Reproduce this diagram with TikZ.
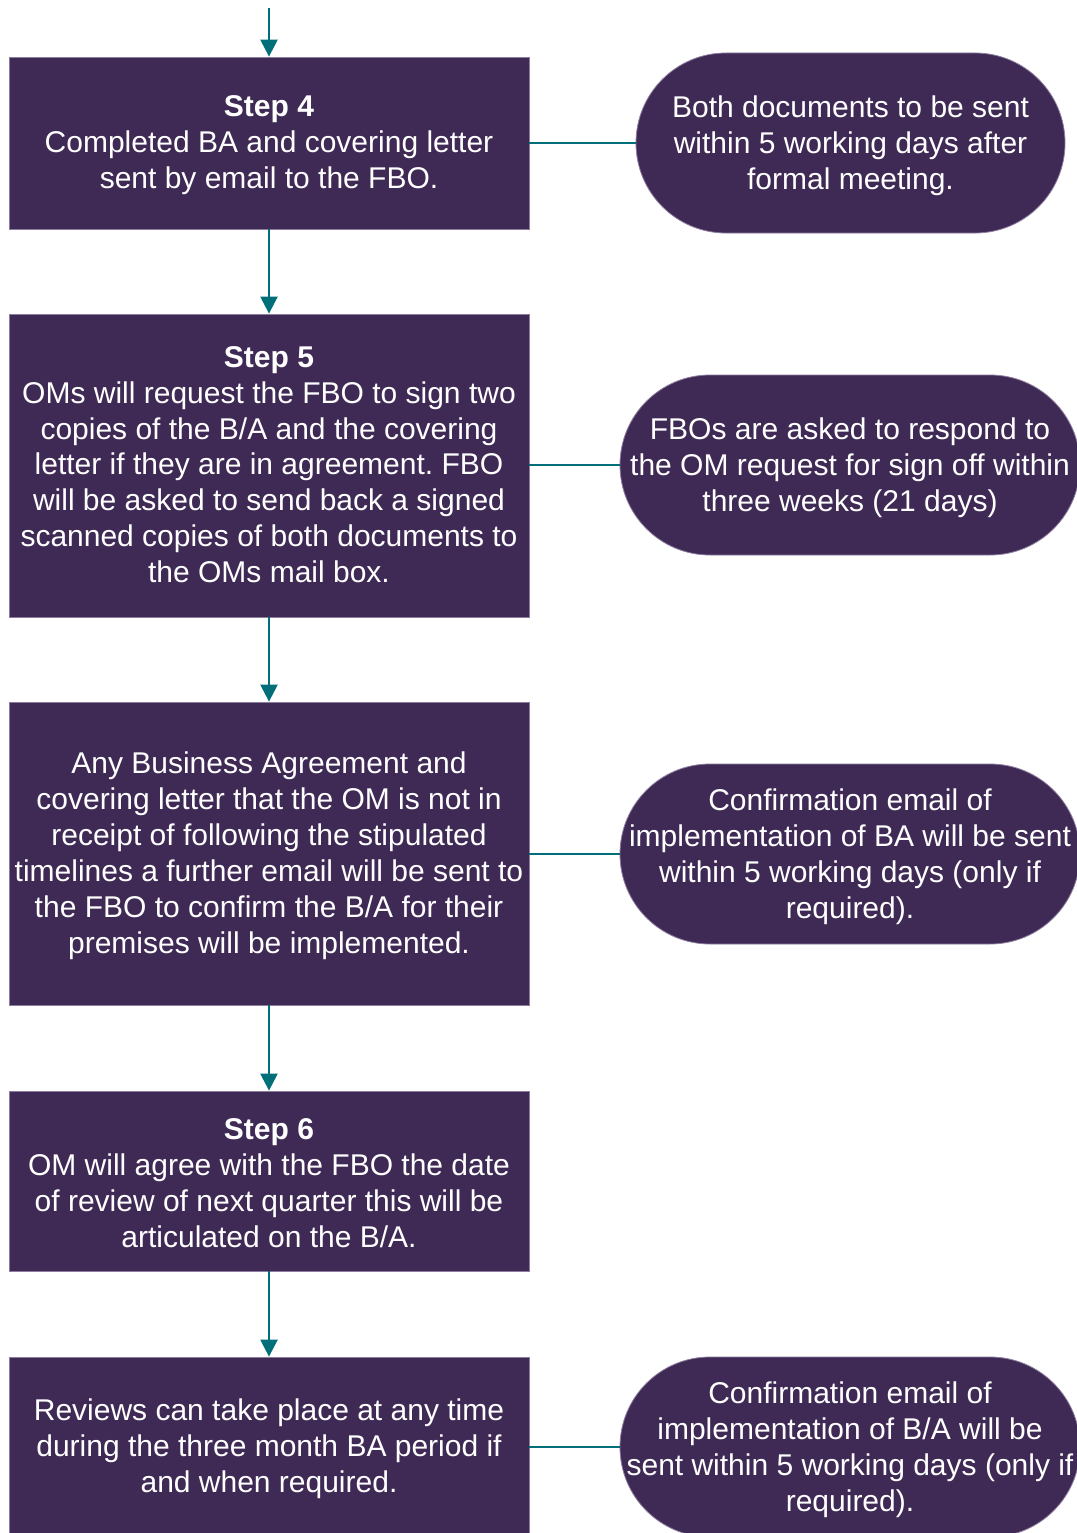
\documentclass[tikz,border=0pt]{standalone}
\usepackage{fontspec}
\setmainfont{Liberation Sans}
\usetikzlibrary{arrows.meta}
\frenchspacing
\definecolor{boxpurple}{HTML}{3F2A55}
\definecolor{boxedge}{HTML}{8C7C9E}
\definecolor{teal}{HTML}{006F79}
\tikzset{
  stepbox/.style={rectangle, fill=boxpurple, draw=boxedge, line width=0.8pt,
    inner sep=0pt, minimum width=520pt},
  pill/.style={rectangle, rounded corners=90pt, fill=boxpurple, draw=boxedge, line width=0.8pt,
    inner sep=0pt, minimum height=180pt},
  txt/.style={text=white, align=center, inner sep=0pt, yshift=-2.5pt,
    font=\fontsize{30}{36}\selectfont},
  flow/.style={draw=teal, line width=2.4pt, -{Triangle[width=17pt,length=17pt]}},
  link/.style={draw=teal, line width=2pt}
}
\begin{document}
\begin{tikzpicture}[x=1pt,y=-1pt]
\useasboundingbox (0,0) rectangle (1076,1533);
\fill[white] (0,0) rectangle (1076,1533);

\node[stepbox, minimum height=172pt] (b4) at (269,143) {};
\node[stepbox, minimum height=303pt] (b5) at (269,465.5) {};
\node[stepbox, minimum height=303pt] (ba) at (269,853.5) {};
\node[stepbox, minimum height=180pt] (b6) at (269,1181) {};
\node[stepbox, minimum height=178pt] (br) at (269,1446) {};

\node[pill, minimum width=429pt] (p1) at (850.5,143) {};
\node[pill, minimum width=460pt] (p2) at (850,465) {};
\node[pill, minimum width=460pt] (p3) at (850,854) {};
\node[pill, minimum width=460pt] (p4) at (850,1447) {};

\node[txt] (t4) at (b4.center)
  {\textbf{Step 4}\\Completed BA and covering letter\\sent by email to the FBO.};
\node[txt, yshift=3.5pt, font=\fontsize{30}{35.8}\selectfont] (t5) at (b5.center)
  {\textbf{Step 5}\\OMs will request the FBO to sign two\\copies of the B/A and the covering\\letter if they are in agreement. FBO\\will be asked to send back a signed\\scanned copies of both documents to\\the OMs mail box.};
\node[txt] (ta) at (ba.center)
  {Any Business Agreement and\\covering letter that the OM is not in\\receipt of following the stipulated\\timelines a further email will be sent to\\the FBO to confirm the B/A for their\\premises will be implemented.};
\node[txt] (t6) at (b6.center)
  {\textbf{Step 6}\\OM will agree with the FBO the date\\of review of next quarter this will be\\articulated on the B/A.};
\node[txt] (tr) at (br.center)
  {Reviews can take place at any time\\during the three month BA period if\\and when required.};

\node[txt] (q1) at (p1.center)
  {Both documents to be sent\\within 5 working days after\\formal meeting.};
\node[txt] (q2) at (p2.center)
  {FBOs are asked to respond to\\the OM request for sign off within\\three weeks (21 days)};
\node[txt] (q3) at (p3.center)
  {Confirmation email of\\implementation of BA will be sent\\within 5 working days (only if\\required).};
\node[txt] (q4) at (p4.center)
  {Confirmation email of\\implementation of B/A will be\\sent within 5 working days (only if\\required).};

\coordinate (top) at (269,8);
\draw[flow] (top) -- (b4.north);
\draw[flow] (b4.south) -- (b5.north);
\draw[flow] (b5.south) -- (ba.north);
\draw[flow] (ba.south) -- (b6.north);
\draw[flow] (b6.south) -- (br.north);

\draw[link] (p1.west) -- (p1.west -| b4.east);
\draw[link] (p2.west) -- (p2.west -| b5.east);
\draw[link] (p3.west) -- (p3.west -| ba.east);
\draw[link] (p4.west) -- (p4.west -| br.east);
\end{tikzpicture}
\end{document}
